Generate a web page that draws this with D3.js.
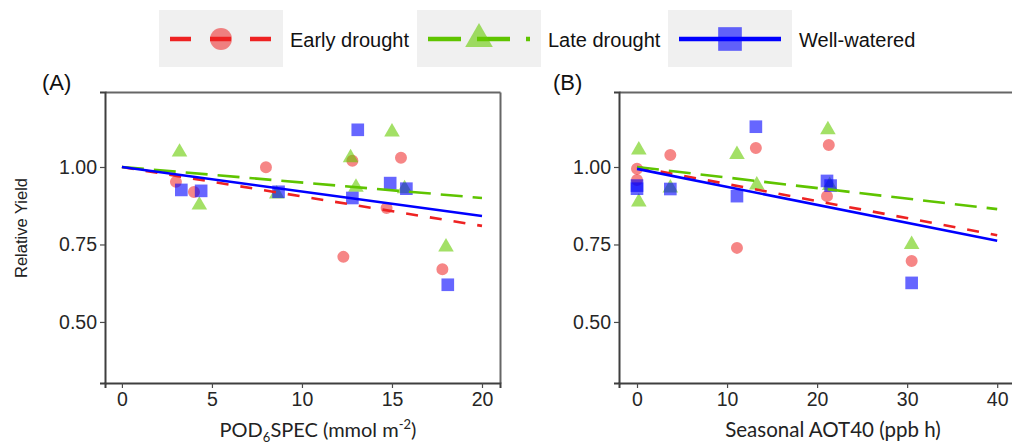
<!DOCTYPE html>
<html>
<head>
<meta charset="utf-8">
<script src="https://cdn.jsdelivr.net/npm/d3@7"></script>
<style>
  body { margin: 0; background: #fff; }
  text { font-family: "Liberation Sans", Arial, sans-serif; }
</style>
</head>
<body>
<div id="chart"></div>
<script>
// Chart size
const width = 1012;
const height = 444;

// Treatments (legend order)
const treatments = ["Early drought", "Late drought", "Well-watered"];

// Panel A: POD6SPEC (mmol m-2) vs relative yield
const aEarlyX = [3.0, 4.0, 8.0, 12.8, 15.5, 14.7, 12.3, 17.8];
const aEarlyY = [0.952, 0.919, 0.999, 1.02, 1.03, 0.868, 0.71, 0.67];
const aLateX = [3.2, 4.3, 8.6, 12.7, 13.0, 15.0, 15.7, 18.0];
const aLateY = [1.048, 0.877, 0.913, 1.03, 0.935, 1.113, 0.93, 0.742];
const aWellX = [3.3, 4.4, 8.7, 12.8, 13.1, 14.9, 15.8, 18.1];
const aWellY = [0.926, 0.923, 0.92, 0.90, 1.12, 0.948, 0.93, 0.62];

// Panel B: seasonal AOT40 (ppb h) vs relative yield
const bEarlyX = [0, 0, 3.7, 13.2, 11.1, 21.3, 21.1, 30.5];
const bEarlyY = [0.994, 0.958, 1.039, 1.061, 0.739, 1.071, 0.906, 0.697];
const bLateX = [0.2, 0.2, 3.7, 11.1, 13.3, 21.2, 21.4, 30.5];
const bLateY = [1.055, 0.887, 0.932, 1.04, 0.942, 1.12, 0.94, 0.75];
const bWellX = [0, 0, 3.7, 11.1, 13.2, 21.1, 21.5, 30.5];
const bWellY = [0.94, 0.93, 0.929, 0.906, 1.13, 0.955, 0.94, 0.626];

// Linear fits (early, late, well-watered)
const aFitIntercept = [1.0, 1.0, 1.0];
const aFitSlope = [-0.0095, -0.005, -0.0079];
const aFitRange = [0, 20];
const bFitIntercept = [1.0, 1.0, 0.994];
const bFitSlope = [-0.0055, -0.0034, -0.0058];
const bFitRange = [0, 40];

// Ticks
const aXTicks = [0, 5, 10, 15, 20];
const bXTicks = [0, 10, 20, 30, 40];
const yTicks = [0.50, 0.75, 1.00];

// Styling per treatment
const lineColor = ["#ee2222", "#5fc400", "#0000ff"];
const pointColor = ["#ee2222", "#66cc00", "#0000ff"];
const pointOpacity = [0.55, 0.6, 0.6];
const dashes = ["12,12", "22,10", null];
const shapes = [d3.symbolCircle, d3.symbolTriangle, d3.symbolSquare];

const svg = d3.select("#chart")
    .append("svg")
    .attr("width", width)
    .attr("height", height);

svg.append("rect")
    .attr("width", width)
    .attr("height", height)
    .attr("fill", "#fff");

// Draw one scatter panel
function drawPanel(opts) {
    const x = d3.scaleLinear().domain(opts.xDomain).range(opts.xRange);
    const y = d3.scaleLinear().domain([0.303, 1.242]).range([383, 92]);
    const x0 = opts.xRange[0];
    const x1 = opts.xRange[1];

    const g = svg.append("g");

    // Top and right border of the panel, drawn as extra axes without ticks
    g.append("g")
        .attr("transform", `translate(0,${y.range()[1]})`)
        .call(d3.axisTop(x).tickValues([]).tickSizeOuter(0))
        .select(".domain")
        .attr("stroke", "#666")
        .attr("stroke-width", 2);
    g.append("g")
        .attr("transform", `translate(${x1},0)`)
        .call(d3.axisRight(y).tickValues([]).tickSizeOuter(0))
        .select(".domain")
        .attr("stroke", "#666")
        .attr("stroke-width", 2);

    // Axes
    const yAxis = d3.axisLeft(y)
        .tickValues(yTicks)
        .tickFormat(d3.format(".2f"))
        .tickSize(5)
        .tickPadding(3);
    const xAxis = d3.axisBottom(x)
        .tickValues(opts.xTicks)
        .tickSize(5)
        .tickPadding(4);

    const ya = g.append("g")
        .attr("transform", `translate(${x0},0)`)
        .call(yAxis);
    const xa = g.append("g")
        .attr("transform", `translate(0,${y.range()[0]})`)
        .call(xAxis);

    [ya, xa].forEach(a => {
        a.select(".domain").attr("stroke", "#3f3f3f").attr("stroke-width", 2);
        a.selectAll(".tick line").attr("stroke", "#4a4a4a").attr("stroke-width", 1.2);
        a.selectAll(".tick text")
            .attr("fill", "#262626")
            .style("font-size", "19.5px")
            .style("font-family", "'Liberation Sans', Arial, sans-serif");
    });

    // Points
    opts.series.forEach((s, i) => {
        const data = s.x.map((v, j) => [v, s.y[j]]);
        const sizes = [113, 105, 160];
        g.append("g")
            .selectAll("path")
            .data(data)
            .enter().append("path")
            .attr("d", d3.symbol().type(shapes[i]).size(sizes[i]))
            .attr("transform", d => `translate(${x(d[0])},${y(d[1])})`)
            .attr("fill", pointColor[i])
            .attr("fill-opacity", pointOpacity[i]);
    });

    // Fit lines
    const line = d3.line().x(d => x(d[0])).y(d => y(d[1]));
    opts.fitIntercept.forEach((b0, i) => {
        const pts = opts.fitRange.map(v => [v, b0 + opts.fitSlope[i] * v]);
        g.append("path")
            .datum(pts)
            .attr("d", line)
            .attr("fill", "none")
            .attr("stroke", lineColor[i])
            .attr("stroke-width", 2.6)
            .attr("stroke-dasharray", dashes[i]);
    });

    // Panel tag
    svg.append("text")
        .attr("x", opts.tagX)
        .attr("y", 90)
        .style("font-size", "22px")
        .attr("fill", "#111")
        .text(opts.tag);

    return { x, y };
}

drawPanel({
    xDomain: [-0.94, 21.0],
    xRange: [105, 500],
    xTicks: aXTicks,
    series: [
        { x: aEarlyX, y: aEarlyY },
        { x: aLateX, y: aLateY },
        { x: aWellX, y: aWellY }
    ],
    fitIntercept: aFitIntercept,
    fitSlope: aFitSlope,
    fitRange: aFitRange,
    tag: "(A)",
    tagX: 42
});

drawPanel({
    xDomain: [-2, 42.2],
    xRange: [619, 1017],
    xTicks: bXTicks,
    series: [
        { x: bEarlyX, y: bEarlyY },
        { x: bLateX, y: bLateY },
        { x: bWellX, y: bWellY }
    ],
    fitIntercept: bFitIntercept,
    fitSlope: bFitSlope,
    fitRange: bFitRange,
    tag: "(B)",
    tagX: 553
});

// Y axis title
svg.append("text")
    .attr("transform", "translate(27,228) rotate(-90)")
    .attr("text-anchor", "middle")
    .style("font-size", "16.5px")
    .attr("fill", "#222")
    .text("Relative Yield");

// X axis titles
const xtA = svg.append("text")
    .attr("x", 318)
    .attr("y", 437)
    .attr("text-anchor", "middle")
    .style("font-family", "Lato, 'Open Sans', sans-serif")
    .style("font-size", "20px")
    .attr("fill", "#222");
xtA.append("tspan").text("POD");
xtA.append("tspan").attr("dy", 5).style("font-size", "13px").text("6");
xtA.append("tspan").attr("dy", -5).text("SPEC (mmol m");
xtA.append("tspan").attr("dy", -8).style("font-size", "13px").text("-2");
xtA.append("tspan").attr("dy", 8).text(")");

svg.append("text")
    .attr("x", 833)
    .attr("y", 437)
    .attr("text-anchor", "middle")
    .style("font-family", "Lato, 'Open Sans', sans-serif")
    .style("font-size", "20.5px")
    .attr("fill", "#222")
    .text("Seasonal AOT40 (ppb h)");

// Legend
const legendBoxX = [159, 417, 668];
const legendBoxW = 124;
const legendSizes = [380, 330, 560];
const legendDash = ["21,19", "33,16", null];

treatments.forEach((name, i) => {
    const lg = svg.append("g").attr("transform", `translate(${legendBoxX[i]},10)`);
    lg.append("rect")
        .attr("width", legendBoxW)
        .attr("height", 57)
        .attr("fill", "#f0f0f0");
    lg.append("line")
        .attr("x1", 11)
        .attr("x2", 113)
        .attr("y1", 29)
        .attr("y2", 29)
        .attr("stroke", lineColor[i])
        .attr("stroke-width", 4.5)
        .attr("stroke-dasharray", legendDash[i]);
    lg.append("path")
        .attr("d", d3.symbol().type(shapes[i]).size(legendSizes[i]))
        .attr("transform", `translate(${legendBoxW / 2},29)`)
        .attr("fill", pointColor[i])
        .attr("fill-opacity", pointOpacity[i]);
    lg.append("text")
        .attr("x", legendBoxW + 7)
        .attr("y", 37)
        .style("font-size", "20px")
        .attr("fill", "#111")
        .text(name);
});
</script>
</body>
</html>
